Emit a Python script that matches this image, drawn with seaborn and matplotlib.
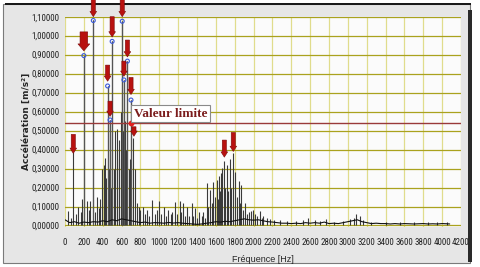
import numpy as np
import pandas as pd
import matplotlib
matplotlib.use("Agg")
import matplotlib.pyplot as plt
from matplotlib import font_manager
from matplotlib.patches import Rectangle
from matplotlib.ticker import FuncFormatter, MultipleLocator
import seaborn as sns

# ---- data ----
floor_freq = [0, 50, 100, 150, 200, 250, 300, 350, 400, 450, 500, 550, 600, 650, 700, 750,
              800, 850, 900, 950, 1000, 1050, 1100, 1150, 1200, 1250, 1300, 1350, 1400, 1450,
              1500, 1550, 1600, 1650, 1700, 1750, 1800, 1850, 1900, 1950, 2000, 2050, 2100,
              2150, 2200, 2250, 2300, 2350, 2400, 2450, 2500, 2550, 2600, 2650, 2700, 2750,
              2800, 2850, 2900, 2950, 3000, 3050, 3100, 3150, 3200, 3250, 3300, 3350, 3400,
              3450, 3500, 3550, 3600, 3650, 3700, 3750, 3800, 3850, 3900, 3950, 4000, 4050, 4080]
floor_amp = [0.03, 0.015, 0.02, 0.012, 0.018, 0.015, 0.02, 0.018, 0.025, 0.02, 0.03, 0.025,
             0.035, 0.03, 0.025, 0.02, 0.015, 0.018, 0.012, 0.015, 0.014, 0.012, 0.016, 0.013,
             0.015, 0.012, 0.01, 0.008, 0.006, 0.008, 0.012, 0.015, 0.02, 0.018, 0.022, 0.02,
             0.025, 0.03, 0.035, 0.03, 0.028, 0.03, 0.025, 0.02, 0.018, 0.015, 0.012, 0.012,
             0.01, 0.012, 0.01, 0.015, 0.012, 0.015, 0.012, 0.018, 0.01, 0.012, 0.01, 0.015,
             0.02, 0.025, 0.03, 0.02, 0.015, 0.01, 0.012, 0.01, 0.01, 0.008, 0.01, 0.008,
             0.01, 0.009, 0.008, 0.009, 0.01, 0.008, 0.009, 0.008, 0.01, 0.009, 0.008]

peak_freq = [36, 60, 88, 120, 140, 165, 180, 200, 233, 255, 268, 300, 320, 339, 360, 374,
             395, 412, 427, 440, 452, 465, 478, 490, 500, 515, 530, 547, 555, 568, 578, 590,
             600, 607, 615, 625, 640, 652, 662, 675, 690, 700, 724, 740, 760, 780, 800, 826,
             850, 870, 895, 925, 950, 975, 999, 1020, 1049, 1070, 1094, 1120, 1140, 1165,
             1190, 1218, 1235, 1253, 1270, 1289, 1310, 1342, 1360, 1377, 1400, 1423, 1448,
             1465, 1480, 1501, 1520, 1536, 1555, 1571, 1590, 1607, 1620, 1631, 1645, 1653,
             1670, 1690, 1700, 1713, 1730, 1748, 1765, 1783, 1801, 1820, 1847, 1860, 1871,
             1890, 1907, 1930, 1953, 1977, 1995, 2013, 2040, 2066, 2085, 2101, 2140, 2172,
             2220, 2278, 2350, 2450, 2520, 2578, 2650, 2700, 2772, 2850, 2950, 3019, 3060,
             3090, 3125, 3160, 3250, 3400, 3550, 3700, 3850, 3950, 4050]
peak_amp = [0.075, 0.04, 0.385, 0.06, 0.1, 0.07, 0.14, 0.895, 0.13, 0.08, 0.13, 1.08, 0.07,
            0.15, 0.09, 0.14, 0.3, 0.32, 0.355, 0.25, 0.735, 0.3, 0.556, 0.2, 0.97, 0.3, 0.5,
            0.4, 0.506, 0.35, 0.45, 0.6, 0.3, 1.076, 0.5, 0.767, 0.55, 0.4, 0.866, 0.3, 0.35,
            0.661, 0.46, 0.3, 0.12, 0.1, 0.08, 0.1, 0.06, 0.08, 0.05, 0.136, 0.06, 0.08,
            0.127, 0.06, 0.1, 0.05, 0.08, 0.06, 0.07, 0.122, 0.06, 0.13, 0.07, 0.12, 0.05,
            0.1, 0.05, 0.12, 0.05, 0.09, 0.04, 0.07, 0.05, 0.07, 0.04, 0.224, 0.1, 0.189,
            0.12, 0.23, 0.15, 0.242, 0.14, 0.26, 0.18, 0.277, 0.304, 0.34, 0.2, 0.32, 0.18,
            0.35, 0.2, 0.383, 0.28, 0.15, 0.233, 0.12, 0.215, 0.08, 0.12, 0.06, 0.07, 0.074,
            0.08, 0.06, 0.05, 0.074, 0.04, 0.05, 0.04, 0.035, 0.03, 0.03, 0.025, 0.025, 0.03,
            0.04, 0.03, 0.025, 0.035, 0.02, 0.025, 0.035, 0.04, 0.06, 0.05, 0.03, 0.02,
            0.018, 0.02, 0.018, 0.02, 0.018, 0.02]

# detected peaks (blue circles)
mark_freq = [200, 300, 452, 478, 500, 607, 625, 662, 700]
mark_amp = [0.895, 1.08, 0.735, 0.556, 0.97, 1.076, 0.767, 0.866, 0.661]

# red arrows: position, tip, tail
arrow_freq = [88, 200, 300, 452, 478, 500, 607, 625, 662, 700, 731, 1690, 1785]
arrow_tip = [0.38, 0.92, 1.10, 0.76, 0.575, 0.993, 1.10, 0.786, 0.888, 0.69, 0.47, 0.36, 0.39]
arrow_tail = [0.48, 1.02, 1.19, 0.845, 0.655, 1.10, 1.19, 0.866, 0.977, 0.78, 0.52, 0.45, 0.49]

limit = 0.54

sns.set_theme(style="white")

# narrow font for the ticks if there is one
installed = {f.name for f in font_manager.fontManager.ttflist}
narrow = None
for cand in ["Liberation Sans Narrow", "Arial Narrow", "DejaVu Sans Condensed", "Roboto Condensed"]:
    if cand in installed:
        narrow = cand
        break
if narrow:
    tick_font, tick_size = narrow, 6.5
else:
    tick_font, tick_size = "Liberation Sans", 5.4
plt.rcParams["font.family"] = [tick_font, "DejaVu Sans"]

fig = plt.figure(figsize=(4.8, 2.67), dpi=100, facecolor="white")
W, H = 480, 267

# window frame
fig.patches.append(Rectangle((3 / W, 1 - 263 / H), 467 / W, 259 / H, transform=fig.transFigure,
                             facecolor="#e6e6e6", edgecolor="#7a7a7a", lw=0.8, zorder=-2))
fig.patches.append(Rectangle((5 / W, 1 - 5 / H), 466 / W, 2 / H, transform=fig.transFigure,
                             facecolor="#1a1a1a", edgecolor="none", zorder=-1))
fig.patches.append(Rectangle((468 / W, 1 - 262 / H), 4 / W, 252 / H, transform=fig.transFigure,
                             facecolor="#2a2a2a", edgecolor="none", zorder=-1))

ax = fig.add_axes([65 / W, 1 - 227 / H, 396 / W, 210.3 / H])
ax.set_zorder(3)
ax.set_facecolor("#fbfbfb")

ax.vlines(peak_freq, 0, peak_amp, color="#3a3a3a", lw=0.8, zorder=3)
ax.vlines(mark_freq, 0, mark_amp, color="#555555", lw=0.9, zorder=3)
floor = pd.DataFrame({"f": floor_freq, "a": floor_amp})
sns.lineplot(data=floor, x="f", y="a", color="#111111", lw=0.8, ax=ax, zorder=4)

ax.axhline(limit, color="#9a3a3a", lw=1.0, zorder=5)

marks = pd.DataFrame({"f": mark_freq, "a": mark_amp})
sns.scatterplot(data=marks, x="f", y="a", marker="o", s=8, facecolor="none",
                edgecolor="#3a5ad8", linewidth=0.8, ax=ax, zorder=6)
ax.plot([mark_freq[-1]], [limit], "o", ms=3.2, color="#e02020", zorder=7)

for f, tip, tail in zip(arrow_freq, arrow_tip, arrow_tail):
    big = f == 200
    style = ("simple,head_width=0.85,head_length=0.5,tail_width=0.55" if big
             else "simple,head_width=0.48,head_length=0.38,tail_width=0.3")
    ax.annotate("", xy=(f, tip), xytext=(f, tail), annotation_clip=False,
                arrowprops=dict(arrowstyle=style, mutation_scale=10, fc="#b8110f",
                                ec="#7a0a0a", lw=0.4, shrinkA=0, shrinkB=0), zorder=8)

ax.text(728, 0.589, "Valeur limite", family="Liberation Serif", weight="bold", fontsize=9.5,
        color="#7b1c1c", va="center", ha="left", zorder=9,
        bbox=dict(boxstyle="square,pad=0.2", fc="white", ec="#8a8a8a", lw=0.8))

ax.set_xlim(0, 4200)
ax.set_ylim(-0.008, 1.1)
ax.xaxis.set_major_locator(MultipleLocator(200))
ax.yaxis.set_major_locator(MultipleLocator(0.1))
ax.yaxis.set_major_formatter(FuncFormatter(lambda v, p: f"{v:.5f}".replace(".", ",")))
ax.xaxis.grid(True, color="#e0dc8c", lw=0.9)
ax.yaxis.grid(True, color="#aaa21e", lw=0.9)
ax.set_axisbelow(True)
for s in ax.spines.values():
    s.set_visible(False)
ax.tick_params(axis="both", which="major", labelsize=tick_size, colors="#222222", length=3,
               width=0.8, direction="out", pad=1)
ax.tick_params(axis="x", pad=5)
ax.set_xlabel("Fréquence [Hz]", fontsize=6.5, family=["Liberation Sans", "DejaVu Sans"],
              labelpad=6)
ax.set_ylabel("Accélération [m/s²]", fontsize=6.5, weight="bold", family="DejaVu Sans")
ax.yaxis.set_label_coords(-0.087, 0.5)

fig.savefig("out.png", dpi=100, facecolor=fig.get_facecolor())
